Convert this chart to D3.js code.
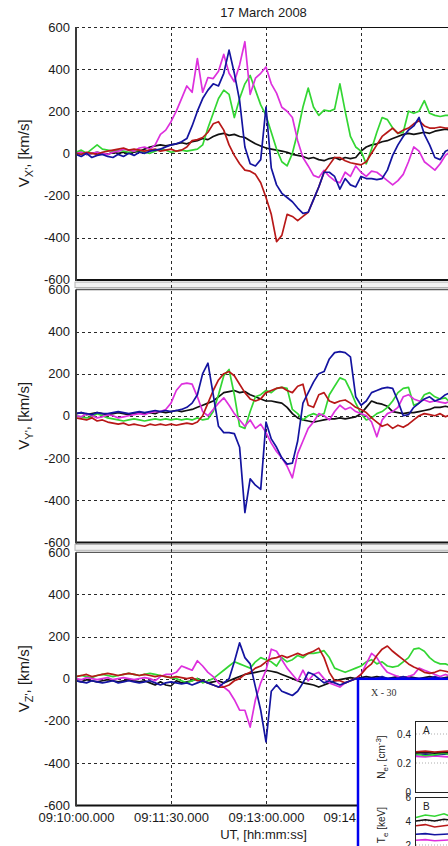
<!DOCTYPE html>
<html>
<head>
<meta charset="utf-8">
<title>Flow velocity components, 17 March 2008</title>
<script src="https://cdn.jsdelivr.net/npm/d3@7/dist/d3.min.js"></script>
<style>
  html, body { margin: 0; padding: 0; background: #fff; overflow: hidden; }
  svg { display: block; font-family: "Liberation Sans", Arial, sans-serif; }
</style>
</head>
<body>
<svg id="chart" width="448" height="846"></svg>
<script>
// ---------------------------------------------------------------- data
const startUT = Date.UTC(2008, 2, 17, 9, 10, 0);
const seconds = d3.range(0, 360, 5);                 // one sample every 5 s after 09:10:00 UT
const timeTickSeconds = [0, 90, 180, 270, 360];
const velocityTicks = [-600, -400, -200, 0, 200, 400, 600];
const gridVelocities = [-400, -200, 0, 200, 400];

// V_X' [km/s]
const vxMagenta = [0,5,-5,0,5,0,-5,5,10,20,15,10,25,30,20,40,
  90,110,150,200,260,320,290,450,290,360,355,390,470,380,340,420,
  530,280,357,380,410,330,286,219,200,170,60,-20,-60,-105,-115,-81,
  -110,-130,-140,-90,-110,-60,-90,-110,-85,-90,-110,-130,-150,-130,-100,-40,
  30,10,-40,-60,-80,-50,-10,10];
const vxBlue = [-5,-15,0,-20,-10,-5,-15,-20,-5,-15,0,-10,5,0,10,15,
  20,30,40,45,55,70,130,200,260,300,330,320,380,490,380,250,
  30,-50,-60,-30,220,-70,-150,-190,-210,-230,-260,-285,-280,-220,-160,-90,
  -90,-110,-170,-120,-150,-160,-110,-120,-120,-125,-120,-80,-10,40,80,110,
  130,170,90,40,-20,-30,10,20];
const vxGreen = [5,15,0,20,40,20,15,10,15,10,5,10,15,5,0,10,
  20,15,5,10,15,10,15,20,40,120,190,260,300,280,170,260,
  330,370,300,230,180,100,20,-40,-60,0,100,220,310,220,180,205,
  200,210,330,200,80,30,10,-50,20,100,170,160,120,95,100,200,
  190,200,250,190,180,175,180,180];
const vxBlack = [0,5,-5,0,5,0,-5,5,0,5,0,5,10,20,30,35,
  40,35,40,45,50,45,55,60,70,65,80,90,95,85,90,80,
  75,60,45,35,25,20,15,10,5,-5,-10,-15,-25,-20,-30,-35,
  -25,-20,-30,-20,-25,-20,10,30,40,45,55,60,70,80,90,95,
  90,95,100,95,105,110,115,110];
const vxRed = [0,-5,5,0,-5,5,10,15,20,25,15,20,15,10,15,20,
  10,15,20,10,15,30,60,65,75,100,140,150,110,40,-10,-50,
  -80,-85,-100,-140,-210,-290,-420,-390,-290,-300,-320,-300,-280,-220,-160,-90,
  -55,-20,-20,-35,-45,-50,-55,-40,0,40,80,100,120,95,110,120,
  140,155,130,120,120,125,120,120];

// V_Y' [km/s]
const vyMagenta = [0,-5,10,0,-10,-5,5,0,-10,-5,0,5,10,5,15,20,
  20,30,60,120,150,155,150,90,20,0,30,60,85,50,10,-20,
  -50,-20,-60,-40,-80,-130,-170,-200,-240,-295,-180,-120,-60,-30,10,0,
  -20,20,50,30,40,20,10,0,-30,-100,-20,10,20,40,90,100,
  80,70,75,65,70,65,60,70];
const vyBlue = [10,15,10,5,15,10,10,15,20,15,10,15,20,15,20,25,
  20,25,20,25,30,40,60,100,200,250,100,-50,-80,-80,-85,-150,
  -460,-300,-330,-350,-30,-110,-150,-200,-230,-225,-120,60,110,160,200,210,
  270,300,305,300,280,90,50,70,110,120,130,135,130,70,0,5,
  40,60,80,90,70,80,100,110];
const vyGreen = [0,-5,-10,-5,10,0,-10,-15,-20,-25,-20,-15,-20,-25,-20,-15,
  -20,-15,-20,-15,-20,-15,-20,-10,-20,-15,20,100,190,220,100,-50,
  -60,20,90,100,120,110,130,135,130,30,10,-20,0,10,0,10,
  100,140,180,170,120,60,10,-20,-10,10,20,40,70,110,130,135,
  50,60,100,110,90,80,85,60];
const vyBlack = [10,15,5,10,15,10,5,10,15,10,5,10,15,10,15,10,
  20,15,20,25,20,25,30,40,50,60,70,90,110,115,120,110,
  115,100,90,80,70,70,65,60,40,10,-10,-20,-25,-30,-25,-20,
  -15,-15,-10,-15,-10,-5,10,40,70,60,55,45,20,15,10,15,
  15,20,25,30,40,40,45,40];
const vyRed = [-10,-15,-20,-10,-25,-20,-30,-35,-40,-35,-45,-40,-45,-50,-40,-45,
  -40,-45,-40,-45,-40,-35,-40,-30,0,60,120,170,200,210,190,150,
  110,80,70,80,110,120,130,135,120,110,140,150,50,40,100,110,
  70,60,70,75,60,40,30,15,-10,-30,-50,-40,-60,-45,-55,-40,
  -20,0,10,5,0,10,-5,5];

// V_Z' [km/s]
const vzMagenta = [0,-5,5,0,-5,0,5,-5,0,5,0,-5,0,5,0,-10,
  10,20,20,30,60,50,40,85,60,30,10,-20,-40,-60,-100,-150,
  -150,-230,-100,-20,40,140,130,90,50,20,-10,40,-10,20,30,0,
  -20,-30,-40,-20,-10,0,20,70,120,100,60,30,20,10,0,10,
  20,50,40,30,20,10,20,10];
const vzBlue = [-10,-15,-20,-10,-15,-20,-15,-10,-20,-15,-10,-15,-20,-15,-10,-20,
  -30,-20,-15,-20,-25,-20,-30,-20,-10,-20,-30,-40,-20,0,80,170,
  100,70,-40,-150,-300,-60,-30,-60,-70,-80,-60,-20,30,20,0,-20,
  -10,-20,-30,-20,-10,0,-10,-20,-10,0,10,0,-10,0,10,0,
  -10,-20,-10,0,10,0,-10,0];
const vzGreen = [10,15,10,5,15,20,15,10,15,20,25,20,15,20,25,20,
  15,10,5,0,-10,-20,-10,0,-20,-10,0,20,40,60,80,70,
  60,50,80,100,90,80,60,100,80,90,110,100,120,120,125,133,
  100,50,40,30,40,50,60,80,90,70,80,60,55,60,80,100,
  140,145,130,100,80,70,70,60];
const vzBlack = [-10,-15,-5,-10,-15,-10,-5,-10,-15,-10,-5,-10,-15,-10,-20,-30,
  -15,-30,-35,-10,-20,-15,-10,0,-10,-20,-15,-10,-20,-10,0,10,
  20,25,30,35,40,35,30,20,10,0,-10,-20,-25,-30,-40,-30,
  -20,-10,-5,0,5,0,5,10,5,10,5,0,5,10,5,10,
  5,0,5,10,5,0,5,10];
const vzRed = [10,15,20,10,15,20,25,20,15,20,25,20,15,20,15,10,
  15,10,5,10,5,0,5,-10,-10,-20,-30,-40,-40,-30,-10,0,
  20,30,50,60,80,95,100,110,100,110,120,110,120,130,145,100,
  30,-10,-10,-20,-10,0,20,50,70,110,140,155,130,110,90,70,
  55,45,30,25,30,40,35,30];

// X - 30 inset: density and temperatures
const insetSamples = d3.range(0, 10);
const neRed     = [0.278,0.282,0.276,0.280,0.284,0.277,0.281,0.279,0.283,0.280];
const neBlack   = [0.270,0.272,0.268,0.274,0.271,0.269,0.273,0.270,0.272,0.271];
const neBlue    = [0.258,0.262,0.256,0.260,0.263,0.257,0.261,0.259,0.262,0.260];
const neGreen   = [0.262,0.250,0.258,0.268,0.248,0.255,0.264,0.252,0.259,0.262];
const neMagenta = [0.246,0.242,0.248,0.244,0.240,0.246,0.243,0.247,0.244,0.245];
const teGreen   = [4.3,4.5,4.4,4.6,4.3,4.5,4.4,4.5,4.3,4.4];
const teBlack   = [4.0,4.1,4.0,4.15,4.05,4.1,4.0,4.1,4.05,4.0];
const teRed     = [3.6,3.7,3.5,3.6,3.7,3.6,3.5,3.6,3.7,3.6];
const teBlue    = [2.9,2.95,2.85,2.9,2.95,2.9,2.85,2.9,2.9,2.95];
const teMagenta = [2.4,2.45,2.35,2.4,2.45,2.4,2.35,2.4,2.45,2.4];
const neTicks = [0, 0.2, 0.4];
const teTicks = [2, 4, 6];

// ---------------------------------------------------------------- styling
const colors = { black: "#111111", green: "#33d633", magenta: "#dd30dd", red: "#b81818", blue: "#1414a0" };
const drawOrder = ["black", "green", "magenta", "red", "blue"];

const panels = [
  { comp: "X", top: 27,    bottom: 279.6, series: { black: vxBlack, green: vxGreen, magenta: vxMagenta, red: vxRed, blue: vxBlue } },
  { comp: "Y", top: 289.5, bottom: 542,   series: { black: vyBlack, green: vyGreen, magenta: vyMagenta, red: vyRed, blue: vyBlue } },
  { comp: "Z", top: 552.3, bottom: 805,   series: { black: vzBlack, green: vzGreen, magenta: vzMagenta, red: vzRed, blue: vzBlue } }
];

const svg = d3.select("#chart");
const at = s => new Date(startUT + s * 1000);
const x = d3.scaleUtc().domain([at(0), at(360)]).range([76, 456]);
const plotLeft = 76, plotRight = 456;

// separators between stacked panels
for (let i = 0; i < panels.length - 1; i++) {
  svg.append("rect")
    .attr("x", plotLeft - 1).attr("y", panels[i].bottom + 2.5)
    .attr("width", plotRight - plotLeft + 10)
    .attr("height", panels[i + 1].top - panels[i].bottom - 4.5)
    .attr("fill", "#f2f2f2").attr("stroke", "#b4b4b4").attr("stroke-width", 1);
}

// vertical time grid runs through all three panels
svg.append("g").selectAll("line")
  .data(timeTickSeconds.slice(1))
  .join("line")
  .attr("x1", d => x(at(d)) + 0.5).attr("x2", d => x(at(d)) + 0.5)
  .attr("y1", panels[0].top).attr("y2", panels[2].bottom)
  .attr("stroke", "#2a2a2a").attr("stroke-width", 1).attr("stroke-dasharray", "3,3");

panels.forEach((p, pi) => {
  const y = d3.scaleLinear().domain([-600, 600]).range([p.bottom, p.top]);
  const g = svg.append("g");

  // horizontal grid
  g.append("g").selectAll("line")
    .data(gridVelocities)
    .join("line")
    .attr("x1", plotLeft).attr("x2", plotRight)
    .attr("y1", d => Math.round(y(d)) + 0.5).attr("y2", d => Math.round(y(d)) + 0.5)
    .attr("stroke", "#2a2a2a").attr("stroke-width", 1).attr("stroke-dasharray", "3,3");

  // frame
  if (pi === 0) {
    g.append("line").attr("x1", plotLeft).attr("x2", 222)
      .attr("y1", p.top + 0.5).attr("y2", p.top + 0.5)
      .attr("stroke", "#2a2a2a").attr("stroke-dasharray", "3,3");
    g.append("line").attr("x1", 222).attr("x2", plotRight)
      .attr("y1", p.top + 0.5).attr("y2", p.top + 0.5)
      .attr("stroke", "#111").attr("stroke-width", 1.2);
  } else {
    g.append("line").attr("x1", plotLeft).attr("x2", plotRight)
      .attr("y1", p.top).attr("y2", p.top)
      .attr("stroke", "#5a5a5a").attr("stroke-width", 1.3);
  }

  // series
  const line = d3.line()
    .x((d, i) => x(at(seconds[i])))
    .y(d => y(d));
  drawOrder.forEach(k => {
    g.append("path")
      .datum(p.series[k])
      .attr("d", line)
      .attr("fill", "none")
      .attr("stroke", colors[k])
      .attr("stroke-width", 1.7)
      .attr("stroke-linejoin", "round");
  });

  // spines
  g.append("line").attr("x1", plotLeft).attr("x2", plotRight)
    .attr("y1", p.bottom + 0.5).attr("y2", p.bottom + 0.5)
    .attr("stroke", "#111").attr("stroke-width", 2);
  g.append("line").attr("x1", plotLeft).attr("x2", plotLeft)
    .attr("y1", p.top).attr("y2", p.bottom + 1.5)
    .attr("stroke", "#3a3a3a").attr("stroke-width", 2);

  // y axis labels
  const ax = g.append("g").attr("transform", `translate(${plotLeft},0)`)
    .call(d3.axisLeft(y).tickValues(velocityTicks).tickSize(0).tickPadding(6).tickFormat(d => String(d)));
  ax.select(".domain").remove();
  ax.selectAll("text").attr("font-size", 13).attr("fill", "#1a1a1a")
    .attr("font-family", "'Liberation Sans', Arial, sans-serif");

  // y title  V_X', [km/s]
  const cy = (p.top + p.bottom) / 2;
  const t = svg.append("text")
    .attr("transform", `translate(29,${cy}) rotate(-90)`)
    .attr("text-anchor", "middle")
    .attr("font-size", 15).attr("fill", "#1a1a1a");
  t.append("tspan").text("V");
  t.append("tspan").attr("font-size", 11).attr("dy", 4).text(p.comp + "'");
  t.append("tspan").attr("dy", -4).text(", [km/s]");
});

// time axis labels
const xa = svg.append("g").attr("transform", `translate(0,${panels[2].bottom})`)
  .call(d3.axisBottom(x).tickValues(timeTickSeconds.map(at)).tickSize(0).tickPadding(8)
    .tickFormat(d3.utcFormat("%H:%M:%S.%L")));
xa.select(".domain").remove();
xa.selectAll("text").attr("font-size", 13).attr("fill", "#1a1a1a")
  .attr("font-family", "'Liberation Sans', Arial, sans-serif");

svg.append("text").attr("x", 263.5).attr("y", 839).attr("text-anchor", "middle")
  .attr("font-size", 13).attr("fill", "#1a1a1a").text("UT, [hh:mm:ss]");
svg.append("text").attr("x", 263.5).attr("y", 16.7).attr("text-anchor", "middle")
  .attr("font-size", 13).attr("fill", "#1a1a1a").text("17 March 2008");

// ---------------------------------------------------------------- inset X - 30
const inset = svg.append("g");
inset.append("rect").attr("x", 358).attr("y", 678.8).attr("width", 120).attr("height", 200)
  .attr("fill", "#fff").attr("stroke", "#0000ee").attr("stroke-width", 2.5);
inset.append("text").attr("x", 371).attr("y", 695.5)
  .attr("font-family", "'Liberation Serif', 'DejaVu Serif', serif")
  .attr("font-size", 10).attr("fill", "#333").text("X - 30");

const ix = d3.scaleLinear().domain([0, 9]).range([416, 500]);
const yNe = d3.scaleLinear().domain([0, 0.4]).range([792, 734]);
const yTe = d3.scaleLinear().domain([2, 6]).range([845, 797]);

const subPanels = [
  { top: 721, bottom: 792, y: yNe, ticks: neTicks, fmt: d => d === 0 ? "0" : d3.format(".1f")(d), tag: "A",
    series: { magenta: neMagenta, blue: neBlue, green: neGreen, black: neBlack, red: neRed } },
  { top: 797, bottom: 900, y: yTe, ticks: teTicks, fmt: d => String(d), tag: "B",
    series: { magenta: teMagenta, blue: teBlue, red: teRed, black: teBlack, green: teGreen } }
];

subPanels.forEach(sp => {
  const g = inset.append("g");
  g.selectAll("line.grid")
    .data(sp.ticks.filter(v => sp.y(v) > sp.top + 2 && sp.y(v) < sp.bottom - 2))
    .join("line").attr("class", "grid")
    .attr("x1", 416).attr("x2", 500)
    .attr("y1", d => sp.y(d)).attr("y2", d => sp.y(d))
    .attr("stroke", "#999").attr("stroke-width", 0.8).attr("stroke-dasharray", "1,2");
  const line = d3.line().x((d, i) => ix(insetSamples[i])).y(d => sp.y(d));
  Object.keys(sp.series).forEach(k => {
    g.append("path").datum(sp.series[k]).attr("d", line)
      .attr("fill", "none").attr("stroke", colors[k]).attr("stroke-width", 1.6);
  });
  g.append("rect").attr("x", 415.5).attr("y", sp.top + 0.5)
    .attr("width", 100).attr("height", sp.bottom - sp.top)
    .attr("fill", "none").attr("stroke", "#222").attr("stroke-width", 1);
  const ax = g.append("g").attr("transform", "translate(415,0)")
    .call(d3.axisLeft(sp.y).tickValues(sp.ticks).tickSize(0).tickPadding(4).tickFormat(sp.fmt));
  ax.select(".domain").remove();
  ax.selectAll("text").attr("font-size", 10).attr("fill", "#222")
    .attr("font-family", "'Liberation Sans', Arial, sans-serif");
  g.append("text").attr("x", 423).attr("y", sp.top + 12.5)
    .attr("font-size", 10).attr("fill", "#222").text(sp.tag);
});

// inset axis titles
const neTitle = inset.append("text")
  .attr("transform", "translate(385,757) rotate(-90)")
  .attr("text-anchor", "middle").attr("font-size", 10).attr("fill", "#222");
neTitle.append("tspan").text("N");
neTitle.append("tspan").attr("font-size", 8).attr("dy", 2.5).text("e");
neTitle.append("tspan").attr("dy", -2.5).text(", [cm");
neTitle.append("tspan").attr("font-size", 8).attr("dy", -4).text("-3");
neTitle.append("tspan").attr("dy", 4).text("]");

const teTitle = inset.append("text")
  .attr("transform", "translate(385,807) rotate(-90)")
  .attr("text-anchor", "end").attr("font-size", 10).attr("fill", "#222");
teTitle.append("tspan").text("T");
teTitle.append("tspan").attr("font-size", 8).attr("dy", 2.5).text("i");
teTitle.append("tspan").attr("dy", -2.5).text(", T");
teTitle.append("tspan").attr("font-size", 8).attr("dy", 2.5).text("e");
teTitle.append("tspan").attr("dy", -2.5).text(" [keV]");
</script>
</body>
</html>
